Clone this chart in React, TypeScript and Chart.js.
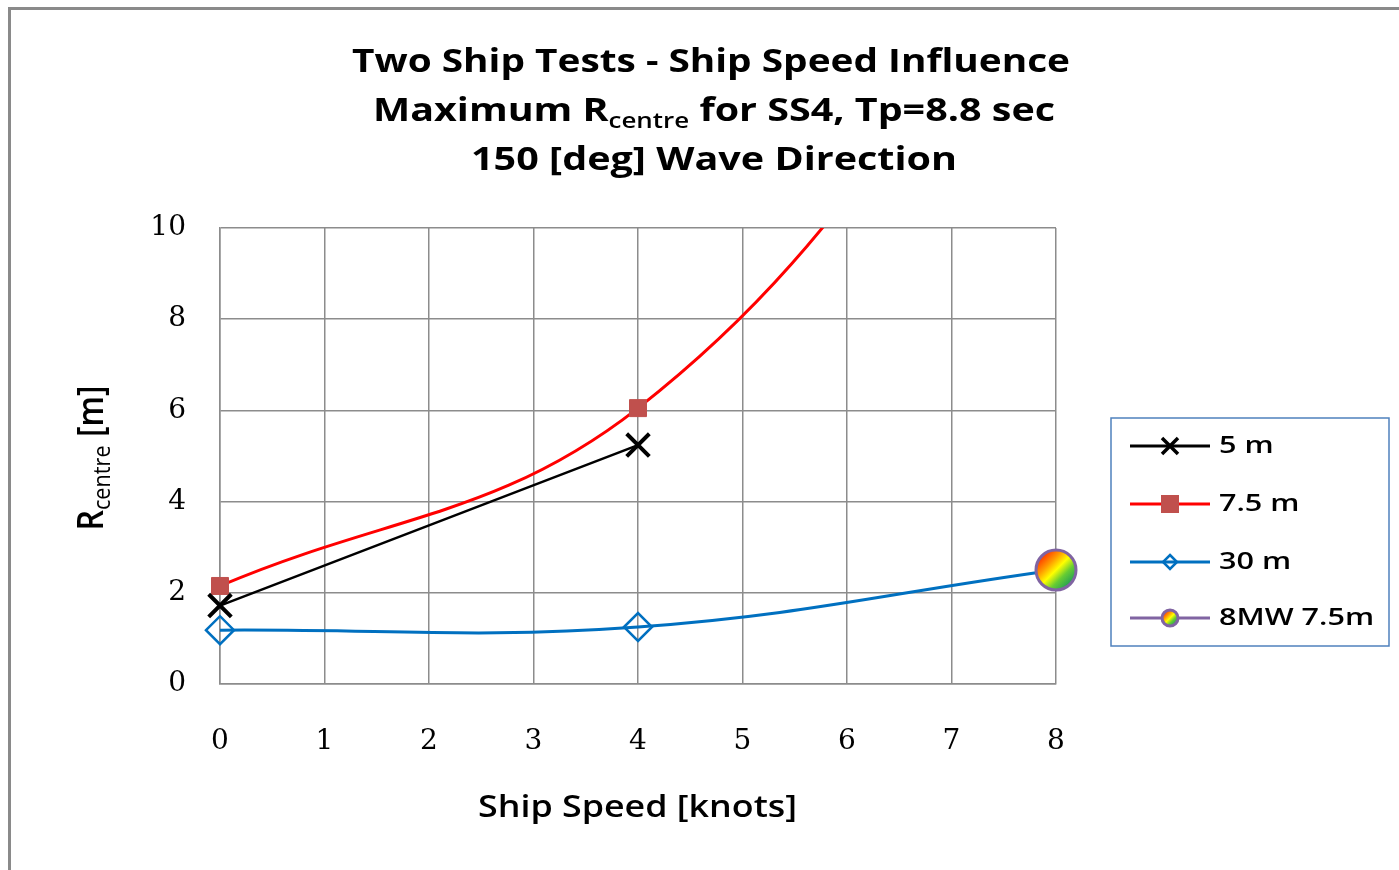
import React, { useEffect, useRef } from "react";
import { Chart, registerables } from "chart.js";

Chart.register(...registerables);

// ---- data ----
const speeds5 = [0, 4];
const r5 = [1.72, 5.24];
const speeds75 = [0, 4, 8];
const r75 = [2.15, 6.05, 16.5];
const speeds30 = [0, 4, 8];
const r30 = [1.18, 1.25, 2.5];
const speeds8MW = [8];
const r8MW = [2.5];
const seriesLabels = ["5 m", "7.5 m", "30 m", "8MW 7.5m"];
const xMin = 0, xMax = 8, xStep = 1;
const yMin = 0, yMax = 10, yStep = 2;
const titleLine1 = "Two Ship Tests - Ship Speed Influence";
const titleLine2 = ["Maximum R", "centre", " for SS4, Tp=8.8 sec"];
const titleLine3 = "150 [deg] Wave Direction";
const xTitle = "Ship Speed [knots]";
const yTitle = ["R", "centre", " [m]"];

const SANS = "'Open Sans', 'DejaVu Sans', sans-serif";
const SERIF = "'DejaVu Serif', 'Liberation Serif', serif";

function toPts(xs: number[], ys: number[]) {
  return xs.map((x, i) => ({ x, y: ys[i] }));
}

function rainbowGradient(ctx: CanvasRenderingContext2D, cx: number, cy: number, r: number) {
  const g = ctx.createLinearGradient(cx - r * 0.75, cy - r * 0.75, cx + r * 0.75, cy + r * 0.75);
  g.addColorStop(0, "#ff2a00");
  g.addColorStop(0.28, "#ff9900");
  g.addColorStop(0.5, "#ffff00");
  g.addColorStop(0.72, "#66cc33");
  g.addColorStop(1, "#1a9a5a");
  return g;
}

function makeMarker(r: number, bw: number) {
  const size = Math.ceil((r + bw) * 2 + 2);
  const c = document.createElement("canvas");
  c.width = size;
  c.height = size;
  const ctx = c.getContext("2d")!;
  const cx = size / 2, cy = size / 2;
  ctx.beginPath();
  ctx.arc(cx, cy, r, 0, Math.PI * 2);
  ctx.fillStyle = rainbowGradient(ctx, cx, cy, r);
  ctx.fill();
  ctx.lineWidth = bw;
  ctx.strokeStyle = "#8064A2";
  ctx.stroke();
  return c;
}

type Seg = { text: string; font: string; dy: number };

// draws segments centred on (cx, cy), horizontally scaled to targetWidth
function drawRich(ctx: CanvasRenderingContext2D, segs: Seg[], cx: number, cy: number, targetWidth: number) {
  let total = 0;
  const widths = segs.map((s) => {
    ctx.font = s.font;
    const w = ctx.measureText(s.text).width;
    total += w;
    return w;
  });
  const sx = targetWidth / total;
  ctx.save();
  ctx.translate(cx, cy);
  ctx.scale(sx, 1);
  let x = -total / 2;
  ctx.textAlign = "left";
  ctx.textBaseline = "middle";
  segs.forEach((s, i) => {
    ctx.font = s.font;
    ctx.fillText(s.text, x, s.dy);
    x += widths[i];
  });
  ctx.restore();
}

function drawScaledLeft(ctx: CanvasRenderingContext2D, text: string, x: number, y: number, font: string, sx: number) {
  ctx.save();
  ctx.translate(x, y);
  ctx.scale(sx, 1);
  ctx.font = font;
  ctx.textAlign = "left";
  ctx.textBaseline = "middle";
  ctx.fillText(text, 0, 0);
  ctx.restore();
}

const decorPlugin = {
  id: "decor",
  beforeDraw(chart: any) {
    const ctx = chart.ctx as CanvasRenderingContext2D;
    ctx.save();
    ctx.fillStyle = "#ffffff";
    ctx.fillRect(0, 0, chart.width, chart.height);
    ctx.fillStyle = "#8a8a8a";
    ctx.fillRect(8, 7, 3, chart.height);
    ctx.fillRect(8, 7, chart.width, 3);
    ctx.restore();
  },
  afterDraw(chart: any) {
    const ctx = chart.ctx as CanvasRenderingContext2D;
    ctx.save();
    ctx.fillStyle = "#000";
    // title
    const tf = `700 32px ${SANS}`;
    drawRich(ctx, [{ text: titleLine1, font: tf, dy: 0 }], 711, 63, 718);
    drawRich(
      ctx,
      [
        { text: titleLine2[0], font: tf, dy: 0 },
        { text: titleLine2[1], font: `600 21px ${SANS}`, dy: 10 },
        { text: titleLine2[2], font: tf, dy: 0 },
      ],
      714,
      112,
      682
    );
    drawRich(ctx, [{ text: titleLine3, font: tf, dy: 0 }], 714, 161, 486);

    // x title
    drawRich(ctx, [{ text: xTitle, font: `600 30px ${SANS}`, dy: 0 }], 637.5, 808, 319);

    // y title
    ctx.save();
    ctx.translate(93, 458);
    ctx.rotate(-Math.PI / 2);
    ctx.scale(1, 1.15);
    drawRich(
      ctx,
      [
        { text: yTitle[0], font: `600 31px ${SANS}`, dy: 0 },
        { text: yTitle[1], font: `500 21px ${SANS}`, dy: 9 },
        { text: yTitle[2], font: `600 31px ${SANS}`, dy: 0 },
      ],
      0,
      0,
      145
    );
    ctx.restore();

    // legend
    const lx = 1111, ly = 418, lw = 278, lh = 228;
    ctx.strokeStyle = "#4F81BD";
    ctx.lineWidth = 1.5;
    ctx.strokeRect(lx, ly, lw, lh);
    const rows = [446, 504, 562, 618];
    const ds = chart.data.datasets;
    rows.forEach((yy: number, i: number) => {
      const d = ds[i];
      const lineColor = i === 3 ? "#8064A2" : d.borderColor;
      ctx.strokeStyle = lineColor;
      ctx.lineWidth = 3;
      ctx.beginPath();
      ctx.moveTo(1130, yy);
      ctx.lineTo(1210, yy);
      ctx.stroke();
      const mx = 1170;
      if (i === 0) {
        ctx.strokeStyle = "#000";
        ctx.lineWidth = 3.5;
        ctx.beginPath();
        ctx.moveTo(mx - 8, yy - 8);
        ctx.lineTo(mx + 8, yy + 8);
        ctx.moveTo(mx + 8, yy - 8);
        ctx.lineTo(mx - 8, yy + 8);
        ctx.stroke();
      } else if (i === 1) {
        ctx.fillStyle = "#C0504D";
        ctx.fillRect(mx - 9, yy - 9, 18, 18);
      } else if (i === 2) {
        ctx.strokeStyle = "#0070C0";
        ctx.lineWidth = 2.5;
        ctx.beginPath();
        ctx.moveTo(mx, yy - 7);
        ctx.lineTo(mx + 7, yy);
        ctx.lineTo(mx, yy + 7);
        ctx.lineTo(mx - 7, yy);
        ctx.closePath();
        ctx.stroke();
      } else {
        ctx.beginPath();
        ctx.arc(mx, yy, 8, 0, Math.PI * 2);
        ctx.fillStyle = rainbowGradient(ctx, mx, yy, 8);
        ctx.fill();
        ctx.lineWidth = 3;
        ctx.strokeStyle = "#8064A2";
        ctx.stroke();
      }
      ctx.fillStyle = "#000";
      drawScaledLeft(ctx, seriesLabels[i], 1219, yy, `600 23px ${SANS}`, 1.33);
    });
    ctx.restore();
  },
};

export default function App() {
  const ref = useRef<HTMLCanvasElement | null>(null);
  useEffect(() => {
    document.body.style.margin = "0";
    const canvas = ref.current!;
    const marker = makeMarker(20, 3);
    const chart = new Chart(canvas, {
      type: "line",
      data: {
        datasets: [
          {
            label: seriesLabels[0],
            data: toPts(speeds5, r5),
            borderColor: "#000000",
            borderWidth: 2.5,
            pointStyle: "crossRot",
            pointRadius: 16,
            pointBorderWidth: 4,
            pointBorderColor: "#000000",
            pointBackgroundColor: "#000000",
            tension: 0.4,
            clip: { left: 30, right: 30, top: 0, bottom: 30 } as any,
            order: 2,
          },
          {
            label: seriesLabels[1],
            data: toPts(speeds75, r75),
            borderColor: "#FF0000",
            borderWidth: 3,
            pointStyle: "rect",
            pointRadius: 12,
            pointBorderWidth: 1,
            pointBorderColor: "#C0504D",
            pointBackgroundColor: "#C0504D",
            tension: 0.4,
            clip: { left: 30, right: 30, top: 0, bottom: 30 } as any,
            order: 3,
          },
          {
            label: seriesLabels[2],
            data: toPts(speeds30, r30),
            borderColor: "#0070C0",
            borderWidth: 3,
            pointStyle: "rectRot",
            pointRadius: 14,
            pointBorderWidth: 2.5,
            pointBorderColor: "#0070C0",
            pointBackgroundColor: "rgba(0,0,0,0)",
            tension: 0.4,
            clip: { left: 30, right: 30, top: 0, bottom: 30 } as any,
            order: 1,
          },
          {
            label: seriesLabels[3],
            data: toPts(speeds8MW, r8MW),
            borderColor: "#8064A2",
            showLine: false,
            pointStyle: marker as any,
            pointRadius: 20,
            clip: false as any,
            order: 0,
          },
        ],
      },
      options: {
        responsive: false,
        animation: false,
        devicePixelRatio: 1,
        events: [],
        layout: { padding: { left: 0, top: 228, right: 343, bottom: 0 } },
        elements: { line: { capBezierPoints: false } },
        plugins: {
          legend: { display: false },
          title: { display: false },
          tooltip: { enabled: false },
        },
        scales: {
          x: {
            type: "linear",
            min: xMin,
            max: xMax,
            ticks: {
              stepSize: xStep,
              padding: 41,
              color: "#000",
              font: { family: SERIF, size: 28 },
            },
            grid: { color: "#8c8c8c", lineWidth: 1.5, drawTicks: false },
            border: { color: "#8c8c8c", width: 1.5 },
            afterFit: (s: any) => {
              s.height = 186;
            },
          },
          y: {
            type: "linear",
            min: yMin,
            max: yMax,
            ticks: {
              stepSize: yStep,
              padding: 34,
              color: "#000",
              font: { family: SERIF, size: 28 },
            },
            grid: { color: "#8c8c8c", lineWidth: 1.5, drawTicks: false },
            border: { color: "#8c8c8c", width: 1.5 },
            afterFit: (s: any) => {
              s.width = 220;
            },
          },
        },
      },
      plugins: [decorPlugin],
    });
    return () => chart.destroy();
  }, []);
  return <canvas ref={ref} width={1399} height={870} style={{ display: "block" }} />;
}
